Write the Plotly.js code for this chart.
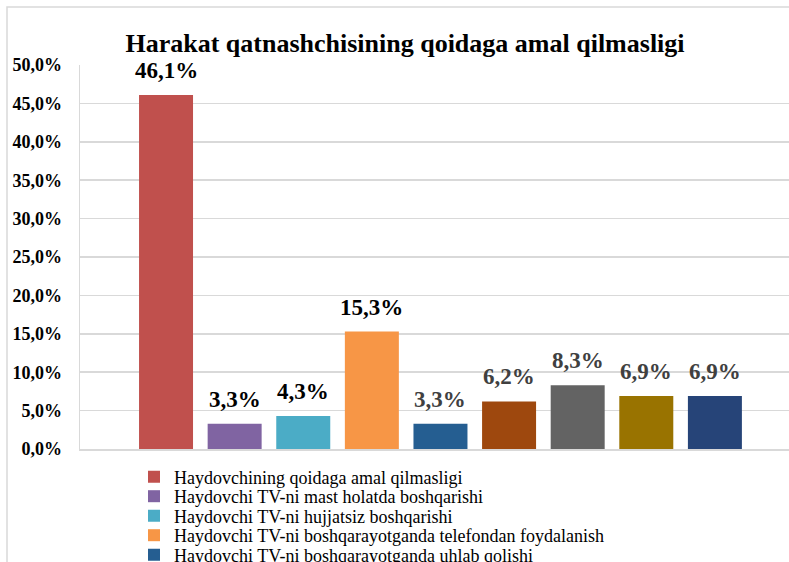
<!DOCTYPE html>
<html>
<head>
<meta charset="utf-8">
<script src="https://cdn.plot.ly/plotly-3.0.1.min.js"></script>
<style>html,body{margin:0;padding:0;background:#fff;}#chart{width:789px;height:562px;}</style>
</head>
<body>
<div id="chart"></div>
<script>
const categories = [
  "Haydovchining qoidaga amal qilmasligi",
  "Haydovchi TV-ni mast holatda boshqarishi",
  "Haydovchi TV-ni hujjatsiz boshqarishi",
  "Haydovchi TV-ni boshqarayotganda telefondan foydalanish",
  "Haydovchi TV-ni boshqarayotganda uhlab qolishi",
  "Haydovchi TV-ni boshqarayotganda tezlikni oshirishi",
  "Piyodaning qoidaga amal qilmasligi",
  "Yo'lning nosozligi",
  "Boshqa sabablar"
];
const values = [46.1, 3.3, 4.3, 15.3, 3.3, 6.2, 8.3, 6.9, 6.9];
const barColors = ["#C0504D", "#8064A2", "#4BACC6", "#F79646", "#255E91", "#9E480E", "#636363", "#997300", "#264478"];
const labelColors = ["#000000", "#000000", "#000000", "#000000", "#404040", "#404040", "#404040", "#404040", "#404040"];
const yTicks = [0, 5, 10, 15, 20, 25, 30, 35, 40, 45, 50];

const W = 789, H = 562;
const M = {l: 80, r: 0, t: 65, b: 113};
const plotH = H - M.t - M.b;
const plotW = W - M.l - M.r;
const serif = "Liberation Serif";

function fmt(v) { return v.toFixed(1).replace('.', ',') + '%'; }

const traces = [];
const layout = {
  width: W, height: H,
  margin: {l: M.l, r: M.r, t: M.t, b: M.b, autoexpand: false},
  paper_bgcolor: "#ffffff",
  plot_bgcolor: "#ffffff",
  barmode: "overlay",
  showlegend: true,
  title: {
    text: "Harakat qatnashchisining qoidaga amal qilmasligi",
    font: {family: serif, size: 26, color: "#000000", weight: "bold"},
    xref: "container", yref: "container",
    x: 405 / W, xanchor: "center",
    y: 1 - 43 / H, yanchor: "middle"
  },
  xaxis: {
    range: [-1.254, 9.08],
    showticklabels: false, showgrid: false, zeroline: false,
    showline: true, linecolor: "#d9d9d9", linewidth: 1.5, ticks: ""
  },
  yaxis: {
    range: [0, 50],
    tickvals: yTicks,
    ticktext: yTicks.map(fmt),
    tickfont: {family: serif, size: 18, color: "#000000", weight: "bold"},
    showgrid: true, gridcolor: "#d9d9d9", gridwidth: 1.5,
    zeroline: false, showline: true, linecolor: "#d9d9d9", linewidth: 1.5,
    ticks: "", ticklabelstandoff: 13
  },
  annotations: [],
  shapes: [{
    type: "rect", xref: "paper", yref: "paper",
    x0: (7 - M.l) / plotW, x1: 1.2,
    y0: -1, y1: (H - M.b - 7) / plotH,
    line: {color: "#d9d9d9", width: 1.5}, fillcolor: "rgba(0,0,0,0)", layer: "below"
  }]
};

categories.forEach((name, i) => {
  const legId = i === 0 ? "legend" : "legend" + (i + 1);
  traces.push({
    type: "bar",
    x: [i], y: [values[i]],
    name: name,
    width: 0.787,
    marker: {color: barColors[i], line: {width: 0}},
    legend: legId,
    hoverinfo: "skip"
  });
  const py = 477 + 19.5 * i;
  layout[legId] = {
    x: (134 - M.l) / plotW, xanchor: "left",
    y: (H - M.b - py) / plotH, yanchor: "middle",
    bgcolor: "rgba(0,0,0,0)",
    font: {family: serif, size: 18, color: "#000000"},
    borderwidth: 0
  };
  layout.annotations.push({
    x: i, y: values[i], xref: "x", yref: "y",
    text: fmt(values[i]),
    showarrow: false, yanchor: "bottom", yshift: 10,
    font: {family: serif, size: 23, color: labelColors[i], weight: "bold"}
  });
});

Plotly.newPlot("chart", traces, layout, {staticPlot: true, displayModeBar: false});
</script>
</body>
</html>
